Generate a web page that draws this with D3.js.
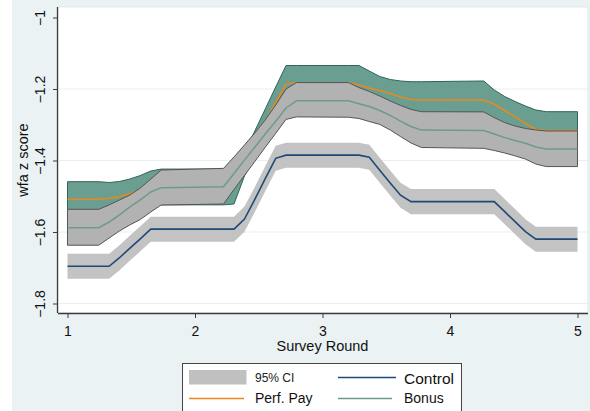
<!DOCTYPE html>
<html>
<head>
<meta charset="utf-8">
<script src="https://cdn.jsdelivr.net/npm/d3@7"></script>
<style>
  html, body { margin: 0; padding: 0; background: #ffffff; }
  svg { display: block; font-family: "Liberation Sans", Arial, sans-serif; }
</style>
</head>
<body>
<svg id="chart" width="590" height="411"></svg>
<script>
// Evaluation points (survey round) where the smoothed curves change slope
const rounds = [1, 1.245, 1.327, 1.408, 1.490, 1.571, 1.653, 1.735,
  2.224, 2.306, 2.388, 2.469, 2.551, 2.633, 2.714, 2.796,
  3.204, 3.286, 3.367, 3.449, 3.531, 3.612, 3.694, 3.776,
  4.265, 4.347, 4.429, 4.510, 4.592, 4.673, 4.755, 5];

// Control group: mean and 95% CI
const controlMean = [-1.696, -1.696, -1.696, -1.672, -1.645, -1.619, -1.592, -1.592,
  -1.592, -1.592, -1.564, -1.509, -1.451, -1.394, -1.385, -1.385,
  -1.385, -1.385, -1.391, -1.427, -1.463, -1.497, -1.515, -1.515,
  -1.515, -1.515, -1.543, -1.571, -1.599, -1.620, -1.620, -1.620];
const controlLo = [-1.731, -1.731, -1.731, -1.707, -1.680, -1.654, -1.627, -1.627,
  -1.627, -1.627, -1.599, -1.544, -1.486, -1.429, -1.420, -1.420,
  -1.420, -1.420, -1.426, -1.462, -1.498, -1.532, -1.550, -1.550,
  -1.550, -1.550, -1.578, -1.606, -1.634, -1.655, -1.655, -1.655];
const controlHi = [-1.661, -1.661, -1.661, -1.637, -1.610, -1.584, -1.557, -1.557,
  -1.557, -1.557, -1.529, -1.474, -1.416, -1.359, -1.350, -1.350,
  -1.350, -1.350, -1.356, -1.392, -1.428, -1.462, -1.480, -1.480,
  -1.480, -1.480, -1.508, -1.536, -1.564, -1.585, -1.585, -1.585];

// Performance pay group: mean and 95% CI
const perfMean = [-1.5085, -1.5085, -1.5057, -1.5013, -1.4923, -1.4825, -1.4769, -1.4733,
  -1.4733, -1.4671, -1.4098, -1.351, -1.2923, -1.2364, -1.186, -1.1824,
  -1.1824, -1.1888, -1.1972, -1.2042, -1.2126, -1.2224, -1.2294, -1.2308,
  -1.2308, -1.242, -1.260, -1.278, -1.2965, -1.3133, -1.316, -1.316];
const perfLo = [-1.5578, -1.5578, -1.550, -1.5438, -1.533, -1.523, -1.5245, -1.524,
  -1.524, -1.5217, -1.4434, -1.3846, -1.3287, -1.278, -1.2378, -1.2305,
  -1.2305, -1.2434, -1.2448, -1.2434, -1.2517, -1.267, -1.279, -1.282,
  -1.284, -1.281, -1.2995, -1.3217, -1.345, -1.3678, -1.3715, -1.3715];
const perfHi = [-1.4593, -1.4593, -1.4615, -1.4587, -1.4517, -1.442, -1.4294, -1.424,
  -1.424, -1.4126, -1.3762, -1.3175, -1.256, -1.1944, -1.1343, -1.1343,
  -1.1343, -1.1343, -1.1497, -1.165, -1.1734, -1.1776, -1.1796, -1.1796,
  -1.1776, -1.2028, -1.221, -1.235, -1.2476, -1.2587, -1.2635, -1.2635];

// Bonus group: mean and 95% CI
const bonusMean = [-1.588, -1.588, -1.572, -1.552, -1.530, -1.510, -1.488, -1.476,
  -1.4733, -1.4366, -1.399, -1.363, -1.326, -1.290, -1.253, -1.233,
  -1.233, -1.241, -1.249, -1.260, -1.274, -1.290, -1.305, -1.315,
  -1.316, -1.326, -1.336, -1.344, -1.352, -1.362, -1.368, -1.368];
const bonusLo = [-1.637, -1.637, -1.6168, -1.597, -1.580, -1.565, -1.544, -1.5245,
  -1.5217, -1.481, -1.4417, -1.403, -1.363, -1.324, -1.285, -1.278,
  -1.279, -1.2825, -1.291, -1.299, -1.3147, -1.333, -1.351, -1.3636,
  -1.366, -1.372, -1.379, -1.387, -1.396, -1.410, -1.417, -1.417];
const bonusHi = [-1.5365, -1.5365, -1.524, -1.5105, -1.4965, -1.477, -1.452, -1.4266,
  -1.422, -1.390, -1.3566, -1.323, -1.2867, -1.2448, -1.200, -1.182,
  -1.182, -1.196, -1.207, -1.2196, -1.2336, -1.246, -1.257, -1.2635,
  -1.264, -1.280, -1.294, -1.3035, -1.3105, -1.3147, -1.3175, -1.3175];

// Axis ticks and labels
const xTicks = [1, 2, 3, 4, 5];
const yTicks = [-1, -1.2, -1.4, -1.6, -1.8];
const yGrid = [-1.2, -1.4, -1.6, -1.8];
const xTitle = "Survey Round";
const yTitle = "wfa z score";
const legendLabels = ["95% CI", "Control", "Perf. Pay", "Bonus"];

const svg = d3.select("#chart");
const W = 590, H = 411;
const plot = { left: 58, right: 588, top: 7, bottom: 313 };

const x = d3.scaleLinear().domain([1, 5]).range([67.5, 577.5]);
const y = d3.scaleLinear().domain([-1.8, -1]).range([303.5, 17.5]);

// graph background
svg.append("rect").attr("x", 12).attr("y", 0).attr("width", W - 12).attr("height", H)
  .attr("fill", "#eaf2f3");
svg.append("rect").attr("x", plot.left).attr("y", plot.top)
  .attr("width", plot.right - plot.left).attr("height", plot.bottom - plot.top)
  .attr("fill", "#ffffff").attr("stroke", "#dfe9eb").attr("stroke-width", 1);

// gridlines
svg.append("g").selectAll("line").data(yGrid).join("line")
  .attr("x1", plot.left).attr("x2", plot.right)
  .attr("y1", d => y(d)).attr("y2", d => y(d))
  .attr("stroke", "#e6eff1").attr("stroke-width", 1.2);

const idx = d3.range(rounds.length);
const band = (lo, hi) => d3.area().x(i => x(rounds[i])).y0(i => y(lo[i])).y1(i => y(hi[i]))(idx);
const path = (v) => d3.line().x(i => x(rounds[i])).y(i => y(v[i]))(idx);

// Performance pay CI and mean
svg.append("path").attr("d", band(perfLo, perfHi))
  .attr("fill", "#6a9e90").attr("stroke", "#2f6459").attr("stroke-width", 1);
svg.append("path").attr("d", path(perfMean))
  .attr("fill", "none").attr("stroke", "#e8891d").attr("stroke-width", 1.6);

// Bonus CI and mean
svg.append("path").attr("d", band(bonusLo, bonusHi))
  .attr("fill", "#b2b2b2").attr("stroke", "#555555").attr("stroke-width", 1);
svg.append("path").attr("d", path(bonusMean))
  .attr("fill", "none").attr("stroke", "#6d9b8b").attr("stroke-width", 1.5);

// Control CI and mean
svg.append("path").attr("d", band(controlLo, controlHi))
  .attr("fill", "#c3c3c3").attr("stroke", "none");
svg.append("path").attr("d", path(controlMean))
  .attr("fill", "none").attr("stroke", "#1f4a78").attr("stroke-width", 1.6);

// axes
const axisColor = "#3c3c3c";
const gx = svg.append("g").attr("transform", `translate(0,${plot.bottom})`)
  .call(d3.axisBottom(x).tickValues(xTicks).tickSize(5).tickSizeOuter(0).tickFormat(d3.format("d")));
gx.select(".domain").attr("d", `M${plot.left},0.5H${plot.right}`);
const gy = svg.append("g").attr("transform", `translate(${plot.left},0)`)
  .call(d3.axisLeft(y).tickValues(yTicks).tickSize(5).tickSizeOuter(0).tickFormat(d => d3.format("")(d)));
gy.select(".domain").attr("d", `M-0.5,${plot.top}V${plot.bottom}`);

[gx, gy].forEach(g => {
  g.select(".domain").attr("stroke", axisColor).attr("stroke-width", 1.3);
  g.selectAll(".tick line").attr("stroke", axisColor).attr("stroke-width", 1);
  g.selectAll("text").attr("fill", "#111").attr("font-size", 14)
    .attr("font-family", "'Liberation Sans', Arial, sans-serif");
});
gx.selectAll("text").attr("dy", null).attr("y", 22.5);
gy.selectAll("text").attr("dy", null).attr("x", null)
  .attr("text-anchor", "middle").attr("transform", "translate(-13,0) rotate(-90)");

// axis titles
svg.append("text").attr("x", x(3)).attr("y", 351)
  .attr("text-anchor", "middle").attr("font-size", 14.5).attr("fill", "#111").text(xTitle);
svg.append("text").attr("transform", `translate(28,${(plot.top + plot.bottom) / 2}) rotate(-90)`)
  .attr("text-anchor", "middle").attr("font-size", 14.5).attr("fill", "#111").text(yTitle);

// legend
const lg = svg.append("g");
lg.append("rect").attr("x", 182.5).attr("y", 363.5).attr("width", 279).attr("height", 60)
  .attr("fill", "#ffffff").attr("stroke", "#444").attr("stroke-width", 1);
lg.append("rect").attr("x", 189).attr("y", 370).attr("width", 57.5).attr("height", 14.5)
  .attr("fill", "#c0c0c0");
lg.append("text").attr("x", 255).attr("y", 382).attr("font-size", 12).attr("fill", "#222").text(legendLabels[0]);
lg.append("line").attr("x1", 338).attr("x2", 396).attr("y1", 377.5).attr("y2", 377.5)
  .attr("stroke", "#1f4a78").attr("stroke-width", 1.6);
lg.append("text").attr("x", 404).attr("y", 383.5).attr("font-size", 15.5).attr("fill", "#111").text(legendLabels[1]);
lg.append("line").attr("x1", 189).attr("x2", 244).attr("y1", 398.5).attr("y2", 398.5)
  .attr("stroke", "#e8891d").attr("stroke-width", 1.6);
lg.append("text").attr("x", 255).attr("y", 403).attr("font-size", 14).attr("fill", "#111").text(legendLabels[2]);
lg.append("line").attr("x1", 338).attr("x2", 392).attr("y1", 398.5).attr("y2", 398.5)
  .attr("stroke", "#6d9b8b").attr("stroke-width", 1.5);
lg.append("text").attr("x", 404).attr("y", 403).attr("font-size", 14).attr("fill", "#111").text(legendLabels[3]);
</script>
</body>
</html>
